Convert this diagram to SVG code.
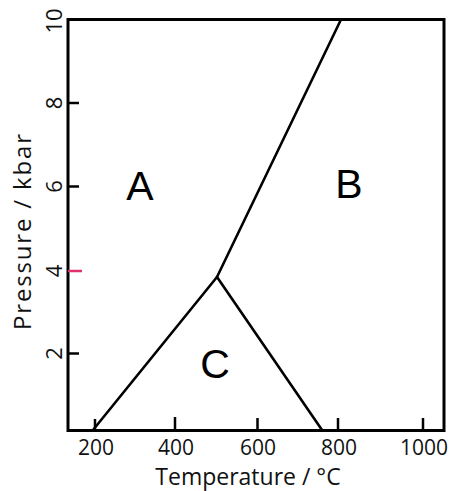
<svg xmlns="http://www.w3.org/2000/svg" width="453" height="491" viewBox="0 0 453 491">
<style>
.ax{fill:none;stroke:#000;stroke-width:3}
.tk{stroke:#000;stroke-width:2.5}
.ln{fill:none;stroke:#000;stroke-width:2.6;stroke-linecap:round;stroke-linejoin:round}
.num{font-family:"Open Sans","Liberation Sans",sans-serif;font-size:21px;fill:#111;text-anchor:middle}
.ynum{font-family:"Open Sans","Liberation Sans",sans-serif;font-size:22px;fill:#111;text-anchor:middle}
.ttl{font-family:"Open Sans","Liberation Sans",sans-serif;fill:#111;text-anchor:middle}
.reg{font-family:"Liberation Sans",Arial,sans-serif;font-size:41px;fill:#000;text-anchor:middle}
</style>
<rect width="453" height="491" fill="#fff"/>
<g id="axes">
  <rect class="ax" x="68" y="19.5" width="376" height="411"/>
  <line class="tk" x1="68" y1="103" x2="79" y2="103"/>
  <line class="tk" x1="68" y1="186.5" x2="79" y2="186.5"/>
  <line x1="68" y1="271" x2="82" y2="271" stroke="#e0336a" stroke-width="2.5"/>
  <line class="tk" x1="68" y1="353.5" x2="79" y2="353.5"/>
  <line class="tk" x1="95" y1="419" x2="95" y2="430"/>
  <line class="tk" x1="175" y1="417" x2="175" y2="430"/>
  <line class="tk" x1="257.5" y1="418" x2="257.5" y2="430"/>
  <line class="tk" x1="338" y1="418" x2="338" y2="430"/>
  <line class="tk" x1="423" y1="418" x2="423" y2="430"/>
  <text class="num" x="96" y="455">200</text>
  <text class="num" x="176" y="455">400</text>
  <text class="num" x="258" y="455">600</text>
  <text class="num" x="339" y="455">800</text>
  <text class="num" x="424" y="455">1000</text>
  <text class="ynum" transform="translate(62,21) rotate(-90)">10</text>
  <text class="ynum" transform="translate(62,103) rotate(-90)">8</text>
  <text class="ynum" transform="translate(62,186.5) rotate(-90)">6</text>
  <text class="ynum" transform="translate(62,271) rotate(-90)">4</text>
  <text class="ynum" transform="translate(62,353.5) rotate(-90)">2</text>
  <text class="ttl" x="248" y="485" font-size="23">Temperature / °C</text>
  <text class="ttl" font-size="24" textLength="196" transform="translate(31,232) rotate(-90)">Pressure / kbar</text>
</g>
<g id="connectors">
  <path class="ln" d="M93,430 L217,277"/>
  <path class="ln" d="M217,277 L322,430"/>
  <path class="ln" d="M217,277 L341,19.5"/>
</g>
<g id="A"><text class="reg" x="140" y="200">A</text></g>
<g id="B"><text class="reg" x="349" y="198">B</text></g>
<g id="C"><text class="reg" x="215" y="378">C</text></g>
</svg>
